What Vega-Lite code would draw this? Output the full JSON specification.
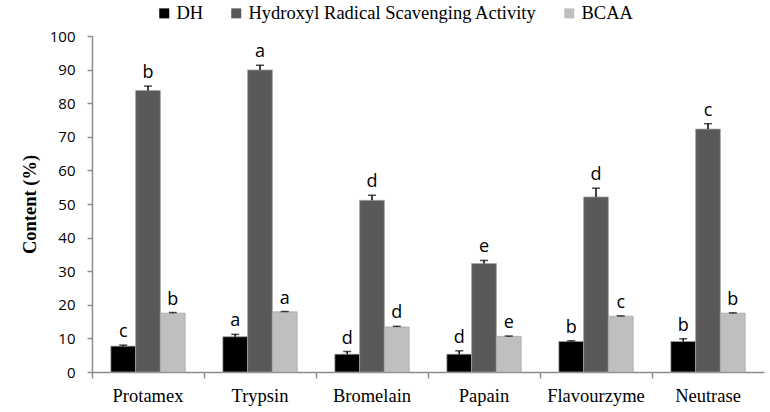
{
  "$schema": "https://vega.github.io/schema/vega-lite/v6.json",
  "width": 672,
  "height": 336,
  "autosize": {"type": "none"},
  "padding": {"left": 92, "top": 36, "right": 6, "bottom": 40},
  "background": "white",
  "config": {"view": {"stroke": null}},
  "data": {"values": [
    {"enzyme": "Protamex", "series": "DH", "value": 7.7, "upper": 8.0, "letter": "c"},
    {"enzyme": "Protamex", "series": "Hydroxyl Radical Scavenging Activity", "value": 83.8, "upper": 85.1, "letter": "b"},
    {"enzyme": "Protamex", "series": "BCAA", "value": 17.5, "upper": 17.7, "letter": "b"},
    {"enzyme": "Trypsin", "series": "DH", "value": 10.5, "upper": 11.2, "letter": "a"},
    {"enzyme": "Trypsin", "series": "Hydroxyl Radical Scavenging Activity", "value": 89.9, "upper": 91.3, "letter": "a"},
    {"enzyme": "Trypsin", "series": "BCAA", "value": 17.9, "upper": 18.0, "letter": "a"},
    {"enzyme": "Bromelain", "series": "DH", "value": 5.3, "upper": 6.1, "letter": "d"},
    {"enzyme": "Bromelain", "series": "Hydroxyl Radical Scavenging Activity", "value": 51.1, "upper": 52.6, "letter": "d"},
    {"enzyme": "Bromelain", "series": "BCAA", "value": 13.4, "upper": 13.6, "letter": "d"},
    {"enzyme": "Papain", "series": "DH", "value": 5.3, "upper": 6.3, "letter": "d"},
    {"enzyme": "Papain", "series": "Hydroxyl Radical Scavenging Activity", "value": 32.3, "upper": 33.2, "letter": "e"},
    {"enzyme": "Papain", "series": "BCAA", "value": 10.6, "upper": 10.7, "letter": "e"},
    {"enzyme": "Flavourzyme", "series": "DH", "value": 9.1, "upper": 9.3, "letter": "b"},
    {"enzyme": "Flavourzyme", "series": "Hydroxyl Radical Scavenging Activity", "value": 52.1, "upper": 54.7, "letter": "d"},
    {"enzyme": "Flavourzyme", "series": "BCAA", "value": 16.6, "upper": 16.7, "letter": "c"},
    {"enzyme": "Neutrase", "series": "DH", "value": 9.1, "upper": 9.9, "letter": "b"},
    {"enzyme": "Neutrase", "series": "Hydroxyl Radical Scavenging Activity", "value": 72.3, "upper": 73.9, "letter": "c"},
    {"enzyme": "Neutrase", "series": "BCAA", "value": 17.5, "upper": 17.6, "letter": "b"}
  ]},
  "encoding": {
    "x": {
      "field": "enzyme", "type": "nominal",
      "sort": ["Protamex", "Trypsin", "Bromelain", "Papain", "Flavourzyme", "Neutrase"],
      "scale": {"paddingInner": 0, "paddingOuter": 0},
      "axis": {
        "title": null, "labelAngle": 0, "bandPosition": 0, "labelOffset": 0,
        "labelFont": "Liberation Serif", "labelFontSize": 18.5, "labelColor": "#000000",
        "labelPadding": 8, "tickSize": 6, "tickColor": "#8c8c8c", "domainColor": "#8c8c8c",
        "domainWidth": 1.5, "tickWidth": 1.5, "labelOverlap": false
      }
    },
    "xOffset": {
      "field": "series", "type": "nominal",
      "sort": ["DH", "Hydroxyl Radical Scavenging Activity", "BCAA"],
      "scale": {"paddingInner": 0, "paddingOuter": 0.76}
    }
  },
  "resolve": {"axis": {"y": "independent"}},
  "layer": [
    {
      "mark": {"type": "bar", "stroke": "#a6a6a6", "strokeWidth": 0.75},
      "encoding": {
        "y": {
          "field": "value", "type": "quantitative",
          "scale": {"domain": [0, 100], "nice": false},
          "axis": {
            "title": "Content (%)", "titleFont": "Liberation Serif", "titleFontSize": 18.5,
            "titleFontWeight": "bold", "titleColor": "#000000", "titlePadding": 10,
            "values": [0, 10, 20, 30, 40, 50, 60, 70, 80, 90, 100], "labelOverlap": false,
            "grid": false, "labelFont": "Open Sans", "labelFontSize": 15, "labelColor": "#000000",
            "labelPadding": 12, "tickSize": 5, "tickColor": "#8c8c8c", "domainColor": "#8c8c8c",
            "domainWidth": 1.5, "tickWidth": 1.5
          }
        },
        "color": {
          "field": "series", "type": "nominal",
          "scale": {"domain": ["DH", "Hydroxyl Radical Scavenging Activity", "BCAA"], "range": ["#000000", "#595959", "#bfbfbf"]},
          "legend": {
            "title": null, "orient": "none", "direction": "horizontal", "columns": 3,
            "legendX": 63, "legendY": -32, "symbolType": "square", "symbolSize": 100,
            "symbolStrokeWidth": 0, "labelFont": "Liberation Serif", "labelFontSize": 18.5,
            "labelColor": "#000000", "labelOffset": 3, "columnPadding": 23, "labelLimit": 0
          }
        }
      }
    },
    {
      "mark": {"type": "rule", "color": "#000000", "strokeWidth": 1.5},
      "encoding": {
        "y": {"field": "value", "type": "quantitative", "axis": null},
        "y2": {"field": "upper"}
      }
    },
    {
      "mark": {"type": "tick", "color": "#000000", "thickness": 1.5, "size": 8},
      "encoding": {
        "y": {"field": "upper", "type": "quantitative", "axis": null}
      }
    },
    {
      "mark": {"type": "text", "baseline": "bottom", "dy": -4, "font": "Open Sans", "fontSize": 18, "color": "#000000"},
      "encoding": {
        "y": {"field": "upper", "type": "quantitative", "axis": null},
        "text": {"field": "letter"}
      }
    }
  ]
}
